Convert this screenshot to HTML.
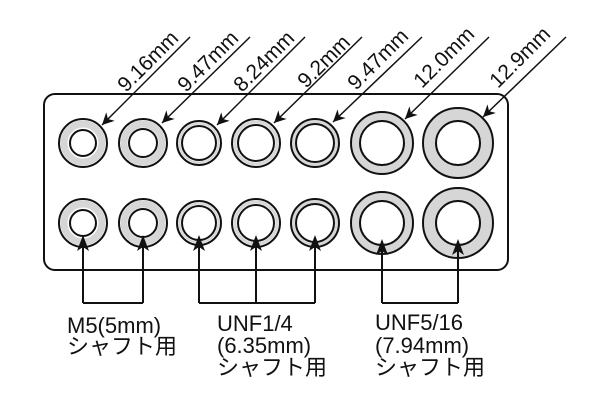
<!DOCTYPE html>
<html><head><meta charset="utf-8"><style>
html,body{margin:0;padding:0;background:#fff;}
svg{display:block;}
text{font-family:"Liberation Sans","Noto Sans CJK JP",sans-serif;fill:#111;}
</style></head><body>
<svg width="600" height="400" viewBox="0 0 600 400" xmlns="http://www.w3.org/2000/svg">
<defs>
<marker id="ah" viewBox="0 0 10 10" refX="10" refY="5" markerWidth="12" markerHeight="12" orient="auto" markerUnits="userSpaceOnUse">
<path d="M0,0 L10,5 L0,10 L3,5 z" fill="#111"/>
</marker>
</defs>
<rect x="44" y="94" width="464" height="176" rx="11" fill="none" stroke="#111" stroke-width="2"/>
<g stroke="#111" stroke-width="2">
<circle cx="83" cy="143" r="19" fill="none" stroke="#d6d6d6" stroke-width="7"/><circle cx="83" cy="143" r="24" fill="none"/><circle cx="83" cy="143" r="13" fill="none"/>
<circle cx="143" cy="143" r="19" fill="none" stroke="#d6d6d6" stroke-width="7"/><circle cx="143" cy="143" r="24" fill="none"/><circle cx="143" cy="143" r="14" fill="none"/>
<circle cx="199" cy="143" r="19.5" fill="none" stroke="#d6d6d6" stroke-width="2"/><circle cx="199" cy="143" r="22" fill="none"/><circle cx="199" cy="143" r="17" fill="none"/>
<circle cx="256" cy="143" r="21" fill="none" stroke="#d6d6d6" stroke-width="3"/><circle cx="256" cy="143" r="24" fill="none"/><circle cx="256" cy="143" r="18" fill="none"/>
<circle cx="315" cy="143" r="21.5" fill="none" stroke="#d6d6d6" stroke-width="3"/><circle cx="315" cy="143" r="24" fill="none"/><circle cx="315" cy="143" r="19" fill="none"/>
<circle cx="382" cy="143" r="26.5" fill="none" stroke="#d6d6d6" stroke-width="7"/><circle cx="382" cy="143" r="31" fill="none"/><circle cx="382" cy="143" r="22" fill="none"/>
<circle cx="458" cy="143" r="28.5" fill="none" stroke="#d6d6d6" stroke-width="11"/><circle cx="458" cy="143" r="35" fill="none"/><circle cx="458" cy="143" r="22" fill="none"/>
<circle cx="83" cy="223" r="19" fill="none" stroke="#d6d6d6" stroke-width="7"/><circle cx="83" cy="223" r="24" fill="none"/><circle cx="83" cy="223" r="13" fill="none"/>
<circle cx="143" cy="223" r="19" fill="none" stroke="#d6d6d6" stroke-width="7"/><circle cx="143" cy="223" r="24" fill="none"/><circle cx="143" cy="223" r="14" fill="none"/>
<circle cx="199" cy="223" r="19.5" fill="none" stroke="#d6d6d6" stroke-width="2"/><circle cx="199" cy="223" r="22" fill="none"/><circle cx="199" cy="223" r="17" fill="none"/>
<circle cx="256" cy="223" r="21" fill="none" stroke="#d6d6d6" stroke-width="3"/><circle cx="256" cy="223" r="24" fill="none"/><circle cx="256" cy="223" r="18" fill="none"/>
<circle cx="315" cy="223" r="21.5" fill="none" stroke="#d6d6d6" stroke-width="3"/><circle cx="315" cy="223" r="24" fill="none"/><circle cx="315" cy="223" r="19" fill="none"/>
<circle cx="382" cy="223" r="26.5" fill="none" stroke="#d6d6d6" stroke-width="7"/><circle cx="382" cy="223" r="31" fill="none"/><circle cx="382" cy="223" r="22" fill="none"/>
<circle cx="458" cy="223" r="28.5" fill="none" stroke="#d6d6d6" stroke-width="11"/><circle cx="458" cy="223" r="35" fill="none"/><circle cx="458" cy="223" r="22" fill="none"/>
</g>
<g stroke="#111" stroke-width="1.5" fill="none" marker-end="url(#ah)">
<line x1="190" y1="37" x2="102" y2="125"/>
<line x1="250" y1="37" x2="162" y2="123"/>
<line x1="305" y1="37" x2="217" y2="125"/>
<line x1="362" y1="37" x2="274" y2="123"/>
<line x1="422" y1="37" x2="333" y2="122"/>
<line x1="489" y1="37" x2="405" y2="119"/>
<line x1="566" y1="37" x2="483" y2="117"/>
</g>
<g style="font-size:21px">
<text style="font-size:21px" transform="translate(126,93) rotate(-45)">9.16mm</text>
<text style="font-size:21px" transform="translate(186,93) rotate(-45)">9.47mm</text>
<text style="font-size:21px" transform="translate(242,93) rotate(-45)">8.24mm</text>
<text style="font-size:21px" transform="translate(306,89) rotate(-45)">9.2mm</text>
<text style="font-size:21px" transform="translate(356,91) rotate(-45)">9.47mm</text>
<text style="font-size:21px" transform="translate(422,89) rotate(-45)">12.0mm</text>
<text style="font-size:21px" transform="translate(498,89) rotate(-45)">12.9mm</text>
</g>
<g stroke="#111" stroke-width="2" fill="none">
<path d="M83,303 V240 M143,303 V240 M83,303 H143" />
<path d="M199,303 V240 M256,303 V240 M315,303 V240 M199,303 H315"/>
<path d="M382,303 V244 M458,303 V244 M382,303 H458"/>
</g>
<g fill="#111">
<path d="M83,235 L77,251 L83,247 L89,251 z"/>
<path d="M143,235 L137,251 L143,247 L149,251 z"/>
<path d="M199,235 L193,251 L199,247 L205,251 z"/>
<path d="M256,235 L250,251 L256,247 L262,251 z"/>
<path d="M315,235 L309,251 L315,247 L321,251 z"/>
<path d="M382,239 L376,255 L382,251 L388,255 z"/>
<path d="M458,239 L452,255 L458,251 L464,255 z"/>
</g>
<g style="font-size:22px">
<text x="67" y="333">M5(5mm)</text>
<text x="67" y="354">シャフト用</text>
<text x="217" y="331">UNF1/4</text>
<text x="217" y="353">(6.35mm)</text>
<text x="217" y="375">シャフト用</text>
<text x="375" y="330">UNF5/16</text>
<text x="375" y="353">(7.94mm)</text>
<text x="375" y="375">シャフト用</text>
</g>
</svg>
</body></html>
